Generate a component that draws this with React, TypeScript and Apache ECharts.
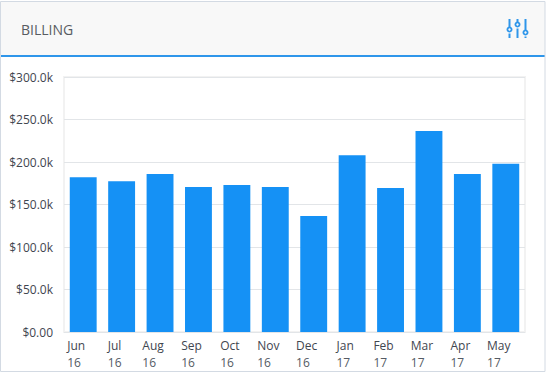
import React, { useEffect, useRef } from "react";
import * as echarts from "echarts";

const months = ["Jun", "Jul", "Aug", "Sep", "Oct", "Nov", "Dec", "Jan", "Feb", "Mar", "Apr", "May"];
const years = ["16", "16", "16", "16", "16", "16", "16", "17", "17", "17", "17", "17"];
const billing = [182000, 177500, 186000, 170500, 173000, 170500, 136500, 208000, 169500, 236500, 186000, 198000];
const title = "BILLING";

const ICON = "M3 0L3 9.5M3 14.5L3 19M11 0L11 4.5M11 9.5L11 19M19 0L19 12.5M19 17.5L19 19";
echarts.graphic.registerShape("slidersIcon", echarts.graphic.extendPath(ICON, {}));

const FONT = "'Open Sans', sans-serif";
const fmt = (v: number) => (v === 0 ? "$0.00" : `$${(v / 1000).toFixed(1)}k`);

export default function App() {
  const ref = useRef<HTMLDivElement>(null);
  useEffect(() => {
    document.body.style.margin = "0";
    const chart = echarts.init(ref.current!, null, { renderer: "svg" });
    const blue = "#2f96ea";
    chart.setOption({
      animation: false,
      backgroundColor: "#fff",
      textStyle: { fontFamily: FONT },
      grid: { left: 64, right: 21, top: 77, bottom: 41, containLabel: false, show: true, borderColor: "#f2f2f2", borderWidth: 2 },
      xAxis: {
        type: "category",
        data: months,
        axisLine: { show: false },
        axisTick: { show: false },
        axisLabel: {
          interval: 0,
          margin: 5,
          padding: [0, 14, 0, 0],
          formatter: (m: string, i: number) => `{m|${m}}\n{y|${years[i]}}`,
          rich: {
            m: { fontFamily: FONT, fontSize: 12, color: "#3f4650", lineHeight: 17, align: "left" },
            y: { fontFamily: FONT, fontSize: 12, color: "#555b64", lineHeight: 17, align: "left" },
          },
        },
      },
      yAxis: {
        type: "value",
        min: 0,
        max: 300000,
        interval: 50000,
        axisLine: { show: false },
        axisTick: { show: false },
        splitLine: { lineStyle: { color: "#e2e5e8", width: 1 } },
        axisLabel: { margin: 11, fontFamily: FONT, fontSize: 12, color: "#3f4650", formatter: fmt },
      },
      series: [{ type: "bar", data: billing, barWidth: "70%", itemStyle: { color: "#1591f5" } }],
      graphic: [
        { type: "rect", z: -10, shape: { x: 1, y: 2, width: 544, height: 53 }, style: { fill: "#f8f8f8" } },
        { type: "rect", z: -9, shape: { x: 1, y: 55, width: 544, height: 2 }, style: { fill: blue } },
        { type: "rect", z: -8, shape: { x: 0.5, y: 1.5, width: 544.5, height: 370 }, style: { fill: "none", stroke: "#d3dae3", lineWidth: 1 } },
        { type: "text", x: 21, y: 22, style: { text: title, fontFamily: FONT, fontSize: 14, fontWeight: 400, fill: "#585c62" } },
        { type: "slidersIcon", x: 506.5, y: 19, style: { fill: "none", stroke: blue, lineWidth: 2 } },
        { type: "circle", shape: { cx: 509.5, cy: 29.5, r: 2.1 }, style: { fill: "#f8f8f8", stroke: blue, lineWidth: 1.8 } },
        { type: "circle", shape: { cx: 517.5, cy: 24.5, r: 2.1 }, style: { fill: "#f8f8f8", stroke: blue, lineWidth: 1.8 } },
        { type: "circle", shape: { cx: 525.5, cy: 32.5, r: 2.1 }, style: { fill: "#f8f8f8", stroke: blue, lineWidth: 1.8 } },
      ],
    });
    return () => chart.dispose();
  }, []);
  return <div ref={ref} style={{ width: 546, height: 373 }} />;
}
